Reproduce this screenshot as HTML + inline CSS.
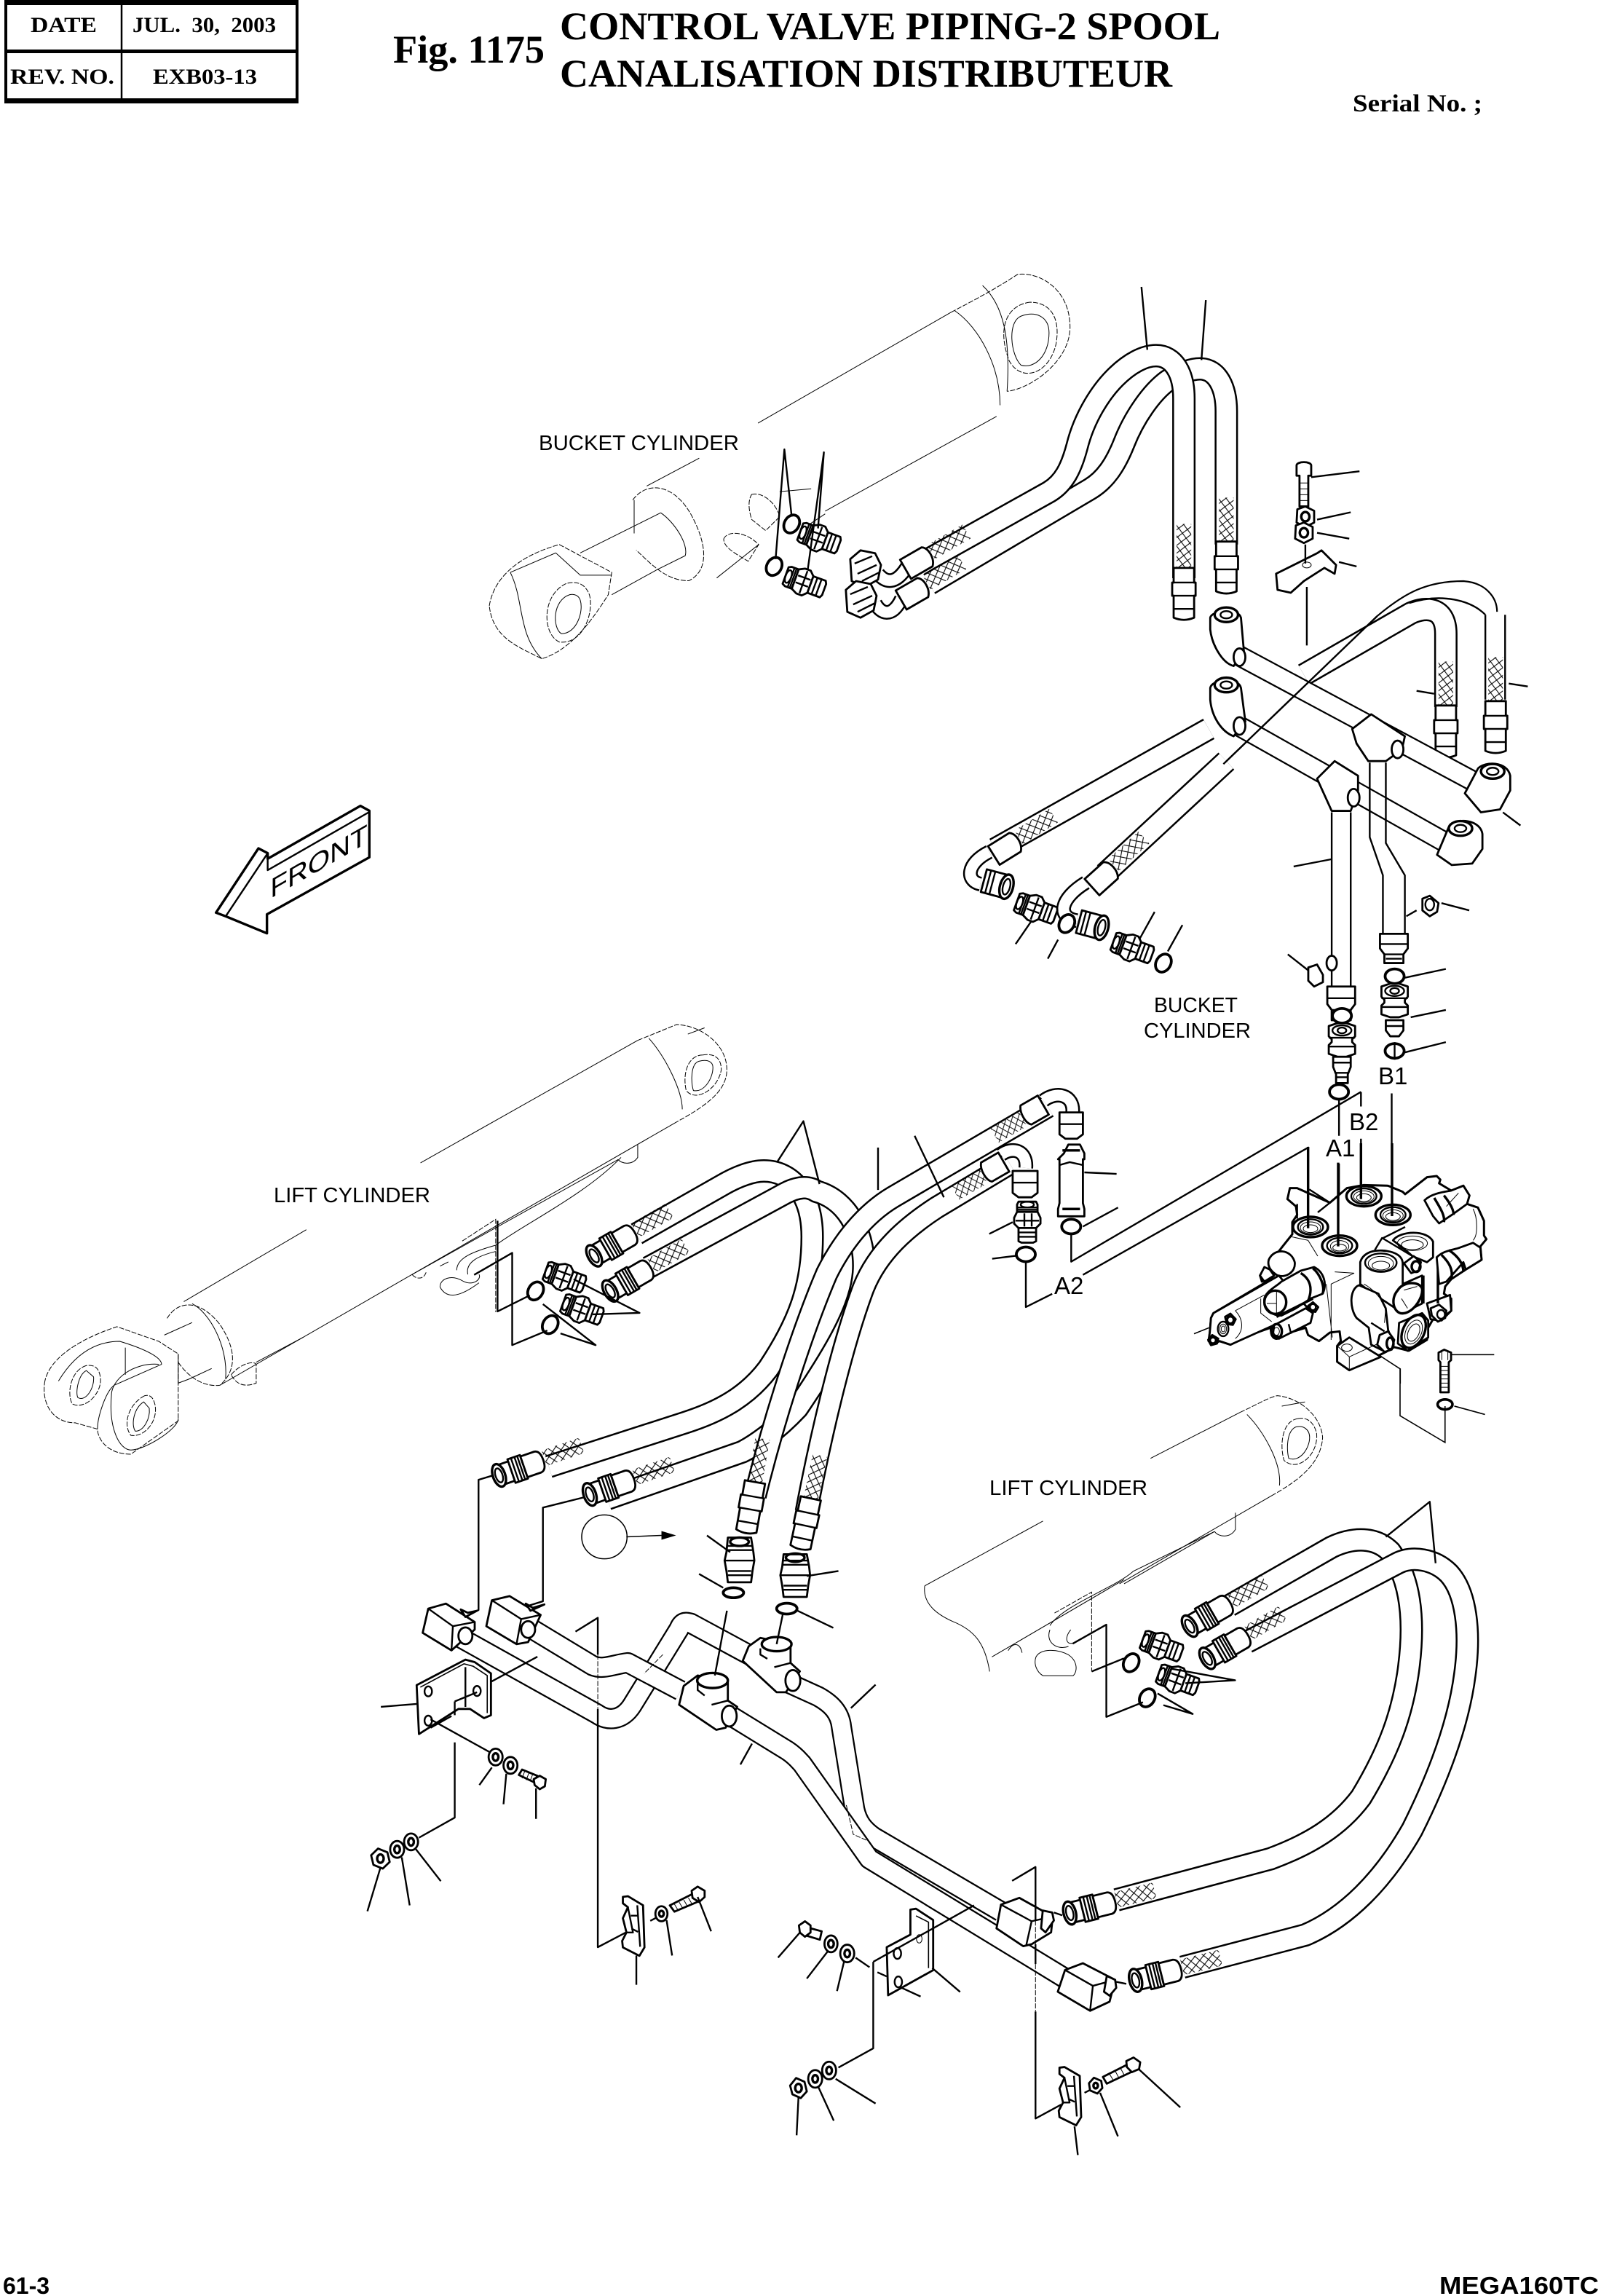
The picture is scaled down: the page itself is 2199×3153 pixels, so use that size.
<!DOCTYPE html>
<html><head><meta charset="utf-8"><style>
html,body{margin:0;padding:0;background:#fff}
svg{display:block}
svg *{vector-effect:non-scaling-stroke}
.l{fill:none;stroke:#000;stroke-width:2.4;stroke-linejoin:round}
.b{fill:none;stroke:#000;stroke-width:3.4;stroke-linejoin:round}
.t{fill:none;stroke:#000;stroke-width:1}
.d{fill:none;stroke:#000;stroke-width:1;stroke-dasharray:7 2}
.f{fill:#fff;stroke:#000;stroke-width:2.8;stroke-linejoin:round}
.ft{fill:#fff;stroke:#000;stroke-width:1}
.hb{fill:none;stroke:#000;stroke-width:32;stroke-linejoin:round}
.hw{fill:none;stroke:#fff;stroke-width:27;stroke-linejoin:round}
.tb{fill:none;stroke:#000;stroke-width:29;stroke-linejoin:round}
.tw{fill:none;stroke:#fff;stroke-width:24.5;stroke-linejoin:round}
.s{font-family:"Liberation Serif",serif;font-weight:bold}
.a{font-family:"Liberation Sans",sans-serif}
</style></head><body>
<svg xmlns="http://www.w3.org/2000/svg" width="2199" height="3153" viewBox="0 0 2199 3153">
<defs>
<pattern id="mesh" width="6" height="6" patternUnits="userSpaceOnUse" patternTransform="rotate(8)"><path d="M0 0L6 6M6 0L0 6" stroke="#000" stroke-width=".55" style="vector-effect:none"/></pattern>
<g id="cf">
<path class="f" d="M0 -7H10V7H0Z"/>
<ellipse class="b" style="fill:#fff" cx="0" cy="0" rx="4.2" ry="8"/>
<ellipse class="l" cx="0" cy="0" rx="2.4" ry="5"/>
<path class="f" d="M9 -8.5H18V8.5H9Z"/>
<path class="l" d="M11.5 -8.5V8.5M14 -8.5V8.5M16 -8.5V8.5"/>
<path class="f" d="M18 -7.5H28Q32 -7 32 0Q32 7 28 7.5H18Z"/>
<rect x="33" y="-6.5" width="27" height="11" fill="url(#mesh)"/>
</g>
<g id="col">
<path class="f" d="M-19 -7H-2Q1 -5 1 0Q1 5 -2 8H-19Z"/>
<rect x="2" y="-6.5" width="28" height="11" fill="url(#mesh)"/>
</g>
<g id="vf">
<path class="f" d="M-7 0V-15H-8V-24H-7V-34H7V-24H8V-15H7V0Q0 3 -7 0Z"/>
<path class="l" d="M-7 -6H7M-8 -15H8M-8 -24H8"/>
<rect x="-5" y="-64" width="10" height="30" fill="url(#mesh)"/>
</g>
<g id="nip">
<path class="f" d="M-6 -14H6L7 -12V-7H-7V-12Z"/>
<ellipse class="l" cx="0" cy="-12" rx="4.5" ry="2"/>
<path class="l" d="M-7 -10H7M-7 -8.5H7"/>
<path class="f" d="M-7 -7H7L9 -3V1L6 4H-6L-9 1V-3Z"/>
<path class="l" d="M-8 -1H8M-2 -6V3M3 -6V3"/>
<path class="f" d="M-6 4H6V13L4 14H-4L-6 13Z"/>
<path class="l" d="M-6 7H6M-6 10H6"/>
</g>
<g id="nu">
<path class="f" d="M-5.5 -5L0 -7L6 -4L6 4L0 7L-6 4Z"/>
<ellipse class="b" cx="0" cy="0" rx="2.8" ry="3.2"/>
</g>
<g id="hx">
<path class="f" d="M-10 -7L-3 -13L7 -11L11 -3L9 7L0 12L-9 8Z"/>
<path class="l" d="M-7 -4L5 -9M-5 3L8 -3M-2 8L10 2"/>
</g>
<g id="nt">
<path class="f" d="M-9 -8H7V8H-9Z"/>
<path class="l" d="M-6 -8V8M-3 -8V8"/>
<ellipse class="b" style="fill:#fff" cx="7" cy="0" rx="4.5" ry="8.5"/>
<ellipse class="l" cx="7" cy="0" rx="2.4" ry="5.5"/>
</g>
<g id="stk">
<path class="f" d="M-9 -10L-3 -12H3L9 -10V-3L7 -1V1L9 3V9L3 11H-3L-9 9V3L-7 1V-1L-9 -3Z"/>
<ellipse class="l" cx="0" cy="-7" rx="6.5" ry="3.5"/>
<ellipse class="l" cx="0" cy="-7" rx="3" ry="2"/>
<path class="l" d="M-9 -2H9M-9 4H9"/>
</g>
<g id="rg"><ellipse cx="0" cy="0" rx="6.5" ry="5" fill="#fff" stroke="#000" stroke-width="3.8"/></g>
<g id="clip">
<path class="f" d="M0 1L7 0L28 14L30 79L23 92L0 79L-1 69L5 56L0 34L7 17L0 11Z"/>
<path class="l" d="M7 17L14 56L5 56M20 14L24 78M11 30L20 30M12 50L21 55"/>
</g>
</defs>

<!-- HEADER -->
<path class="b" style="stroke-width:2.5" d="M167 0V142"/>
<path d="M6 0H410V7H6Z M6 135H410V142H6Z M6 68H410V73H6Z M6 0H10V142H6Z M406 0H410V142H406Z" fill="#000"/>
<text class="s" x="42" y="44" font-size="30" textLength="91" lengthAdjust="spacingAndGlyphs">DATE</text>
<text class="s" x="182" y="44" font-size="30" textLength="197" lengthAdjust="spacingAndGlyphs" xml:space="preserve">JUL.  30,  2003</text>
<text class="s" x="14" y="115" font-size="30" textLength="143" lengthAdjust="spacingAndGlyphs">REV. NO.</text>
<text class="s" x="210" y="115" font-size="30" textLength="143" lengthAdjust="spacingAndGlyphs">EXB03-13</text>
<text class="s" x="540" y="86" font-size="54" textLength="208" lengthAdjust="spacingAndGlyphs">Fig. 1175</text>
<text class="s" x="769" y="54" font-size="54" textLength="907" lengthAdjust="spacingAndGlyphs">CONTROL VALVE PIPING-2 SPOOL</text>
<text class="s" x="769" y="119" font-size="54" textLength="841" lengthAdjust="spacingAndGlyphs">CANALISATION DISTRIBUTEUR</text>
<text class="s" x="1858" y="153" font-size="34" textLength="178" lengthAdjust="spacingAndGlyphs">Serial No. ;</text>

<!-- FRONT arrow -->
<g transform="translate(270,1080) scale(.3333)">
<path class="b" d="M80 520L255 255L293 275V298L675 80L712 100V292L290 527V605L120 535Z"/>
<path class="l" d="M120 535L293 275M293 298V345L712 105"/>
<text class="a" transform="matrix(.87 -.5 0 1 304 462)" font-size="112" textLength="460" lengthAdjust="spacingAndGlyphs">FRONT</text>
</g>

<!-- BUCKET CYLINDER (thin) -->
<g transform="translate(600,350) scale(.961,.765)">
<path class="t" d="M459 302L735 103M555 460L800 290M300 415L375 365M205 535L320 463M250 610L315 565"/>
<path class="d" d="M735 103C770 80 800 60 830 35C860 30 905 60 905 130C905 190 850 240 815 245"/>
<path class="t" d="M740 100C775 130 805 200 805 270M780 55C810 90 820 150 815 245"/>
<path class="d" d="M848 85C815 90 800 130 818 190C835 230 875 215 885 160C892 110 875 85 848 85Z"/>
<path class="t" d="M835 110C815 120 820 180 835 198C855 205 875 180 875 140C875 110 855 100 835 110Z"/>
<path class="d" d="M280 440C300 405 340 410 365 470C390 530 385 570 360 585C330 585 310 560 285 530"/>
<path class="t" d="M282 440V500"/>
<path class="t" d="M320 463C340 480 360 520 355 540L315 565"/>
<path class="d" d="M75 630C80 590 105 545 175 520L250 570L245 610C220 660 190 710 150 725C120 705 80 690 75 630Z"/>
<path class="t" d="M105 570C125 620 115 680 150 725M105 570L170 535L205 575L250 575"/>
<path class="d" d="M185 590C150 610 150 680 175 695C210 700 225 640 218 610C212 590 200 585 185 590Z"/>
<path class="t" d="M190 610C165 620 165 670 178 680C200 680 210 640 205 620C203 612 197 608 190 610Z"/>
<path class="d" d="M450 430C465 425 485 445 490 470L470 495L450 475C445 455 445 440 450 430ZM410 510C415 495 440 495 460 520L445 550C425 535 410 525 410 510Z"/>
<path class="t" d="M490 425L535 420M460 520L400 580M555 465L525 490"/>
</g>

<!-- LIFT CYLINDER left (thin) -->
<g transform="translate(0,1400) scale(.765,.574)">
<path class="t" d="M755 343L1145 50M1215 245L395 875M550 503L330 675M295 755L345 725M340 860L380 835"/>
<path class="d" d="M1145 50L1215 12C1260 15 1305 60 1305 120C1305 170 1270 205 1215 245"/>
<path class="t" d="M1165 45C1195 90 1225 170 1225 215M1235 35L1265 20"/>
<path class="d" d="M1262 85C1235 85 1225 130 1232 170C1250 200 1290 165 1295 120C1295 95 1285 80 1262 85Z"/>
<path class="t" d="M1255 100C1240 105 1240 150 1245 170C1265 175 1280 140 1280 115C1280 100 1270 95 1255 100Z"/>
<path class="d" d="M300 715C320 670 360 670 395 730C425 790 425 840 395 875C370 880 340 860 320 820"/>
<path class="t" d="M345 680C375 700 410 780 405 860"/>
<path class="d" d="M80 870C85 820 130 770 210 735L285 770L320 800V960L235 1040C190 1040 175 1000 175 980L135 965C95 965 75 920 80 870Z"/>
<path class="t" d="M105 865C130 810 165 770 215 770C265 790 290 810 290 825L205 875C190 890 175 950 175 980M320 800V870L340 860M225 785V850"/>
<path class="t" d="M200 900C200 860 240 820 285 825M200 900C195 980 215 1030 235 1030C260 1030 320 980 320 955"/>
<path class="d" d="M155 828C125 840 120 900 130 920C155 935 185 890 180 855C178 835 170 825 155 828Z"/>
<path class="d" d="M260 900C230 920 220 970 235 995C260 1000 285 960 278 920C275 905 270 897 260 900Z"/>
<path class="t" d="M155 840C140 850 135 895 140 905C155 915 170 880 168 855Z"/>
<path class="t" d="M258 915C240 930 235 970 243 985C258 985 270 955 268 930Z"/>
<path class="d" d="M415 850C430 825 455 815 460 825V870C440 880 425 875 415 850Z"/>
<path class="t" d="M545 760L460 820M1145 300V330C1135 350 1115 345 1110 335M1110 335L740 610"/>
<path class="d" d="M830 530L890 478V700M740 610C745 620 760 625 765 605"/>
<path class="t" d="M820 600C820 570 850 555 890 540C940 490 1050 420 1115 330M840 610C835 580 860 565 890 555"/>
<path class="t" d="M790 640C790 620 810 610 830 625C850 640 865 620 860 610M790 640C800 665 820 670 860 630"/>
<path class="t" d="M805 580L790 590"/>
</g>

<!-- LIFT CYLINDER right (thin) -->
<g transform="translate(1200,1400) scale(.637,.574)">
<path class="t" d="M597 1050L790 940M865 1135L530 1350M365 1200L110 1355M255 1525L540 1340M880 925L930 915"/>
<path class="d" d="M790 940C820 925 850 905 870 900C920 905 965 950 968 1000C965 1060 920 1100 865 1135"/>
<path class="t" d="M805 945C840 985 880 1060 875 1115"/>
<path class="d" d="M915 955C880 960 875 1020 885 1055C915 1085 960 1040 955 990C950 965 935 950 915 955Z"/>
<path class="t" d="M910 975C890 985 890 1030 895 1050C920 1060 940 1025 940 1000C940 980 925 970 910 975Z"/>
<path class="t" d="M110 1355C105 1400 140 1425 170 1440C215 1460 240 1490 250 1560"/>
<path class="t" d="M780 1180V1220C770 1240 745 1240 735 1225M735 1225L540 1350"/>
<path class="d" d="M390 1420L470 1370V1560"/>
<path class="t" d="M290 1510C300 1490 315 1490 320 1515M380 1460C370 1490 395 1510 420 1500M425 1460C410 1480 415 1500 435 1490"/>
<path class="t" d="M350 1525C360 1505 395 1505 420 1520C440 1535 440 1560 430 1570H365C350 1560 345 1540 350 1525Z"/>
<path class="t" d="M380 1450C410 1400 520 1360 560 1320L735 1225"/>
</g>

<!-- HOSES -->
<g transform="scale(2.01)">
<path class="hb" d="M635 399L745 334C755 328 762 318 768 303C775 285 787 268 798 260C808 254 815 252 820 252C832 252 838 265 838 281V372"/>
<path class="hw" d="M635 399L745 334C755 328 762 318 768 303C775 285 787 268 798 260C808 254 815 252 820 252C832 252 838 265 838 281V372"/>
<path class="hb" d="M633 383L717 336C727 330 732 320 736 305C741 285 752 268 762 258C772 248 782 243 790 243C802 243 809 255 809 272V395"/>
<path class="hw" d="M633 383L717 336C727 330 732 320 736 305C741 285 752 268 762 258C772 248 782 243 790 243C802 243 809 255 809 272V395"/>
<!-- upper right hoses -->
<path class="t" style="stroke-width:2.2" d="M836 522L941 421C960 405 975 397 1000 397C1015 398 1023 408 1023 418"/>
<path class="l" d="M1015 420V478M1028.5 420V478"/>
<path class="hb" d="M891 461L964 419C975 414 988 415 988 433V483"/>
<path class="hw" d="M891 461L964 419C975 414 988 415 988 433V483"/>
<path class="l" d="M963 412C985 405 1005 410 1015 420"/>
<path class="hb" d="M680 580L826 498"/><path class="hw" d="M680 580L826 498"/>
<path class="hb" d="M755 597L838 520"/><path class="hw" d="M755 597L838 520"/>

<!-- lift hoses behind -->
<path class="hb" d="M435 843L493 810C505 803 515 800 522 800C540 800 555 815 555 845C555 880 545 905 525 935C510 955 490 965 468 972L375 1002"/>
<path class="hw" d="M435 843L493 810C505 803 515 800 522 800C540 800 555 815 555 845C555 880 545 905 525 935C510 955 490 965 468 972L375 1002"/>
<path class="hb" d="M443 866L537 815C545 811 552 810 558 814C580 820 592 845 590 870C588 895 570 925 545 962C530 978 515 988 507 992L415 1024"/>
<path class="hw" d="M443 866L537 815C545 811 552 810 558 814C580 820 592 845 590 870C588 895 570 925 545 962C530 978 515 988 507 992L415 1024"/>
<!-- long hoses -->
<path class="hb" d="M716 756L610 818C590 830 575 850 565 870C550 905 530 965 516 1022"/>
<path class="hw" d="M716 756L610 818C590 830 575 850 565 870C550 905 530 965 516 1022"/>
<path class="hb" d="M690 795L640 825C620 838 600 855 590 880C575 920 560 985 551 1033"/>
<path class="hw" d="M690 795L640 825C620 838 600 855 590 880C575 920 560 985 551 1033"/>
<!-- right lift hoses -->
<path class="hb" d="M840 1097L910 1057C925 1050 940 1050 950 1060C965 1080 967 1110 962 1144C958 1170 950 1195 930 1228C915 1248 895 1260 868 1270L763 1298"/>
<path class="hw" d="M840 1097L910 1057C925 1050 940 1050 950 1060C965 1080 967 1110 962 1144C958 1170 950 1195 930 1228C915 1248 895 1260 868 1270L763 1298"/>
<path class="hb" d="M852 1122L955 1068C965 1063 980 1065 990 1075C1002 1088 1005 1115 1001 1144C997 1175 985 1210 965 1250C945 1285 920 1310 892 1322L808 1344"/>
<path class="hw" d="M852 1122L955 1068C965 1063 980 1065 990 1075C1002 1088 1005 1115 1001 1144C997 1175 985 1210 965 1250C945 1285 920 1310 892 1322L808 1344"/>

<!-- hose ends -->
<use href="#vf" transform="translate(809,422)"/>
<use href="#vf" transform="translate(838,404)"/>
<use href="#vf" transform="translate(988,516)"/>
<use href="#vf" transform="translate(1022,513)"/>
<use href="#vf" transform="translate(510,1046) rotate(10)"/>
<use href="#vf" transform="translate(547,1057) rotate(12)"/>
<use href="#cf" transform="translate(341,1008) rotate(-19)"/>
<use href="#cf" transform="translate(403,1021) rotate(-19)"/>
<use href="#cf" transform="translate(406,858) rotate(-30)"/>
<use href="#cf" transform="translate(417,882) rotate(-30)"/>
<use href="#cf" transform="translate(813,1111) rotate(-30)"/>
<use href="#cf" transform="translate(825,1133) rotate(-30)"/>
<use href="#cf" transform="translate(731,1307) rotate(-14)"/>
<use href="#cf" transform="translate(776,1353) rotate(-14)"/>

<!-- bucket elbows -->
<path class="hb" style="stroke-width:20" d="M620 387C612 400 605 398 600 392"/><path class="hw" style="stroke-width:15" d="M620 387C612 400 605 398 600 392"/>
<path class="hb" style="stroke-width:20" d="M616 409C610 422 602 420 598 412"/><path class="hw" style="stroke-width:15" d="M616 409C610 422 602 420 598 412"/>
<use href="#col" transform="translate(635,379) rotate(-30)"/>
<use href="#col" transform="translate(632,400) rotate(-30)"/>
<use href="#hx" transform="translate(591,389)"/>
<use href="#hx" transform="translate(588,410)"/>
<!-- low elbow pieces -->
<path class="hb" style="stroke-width:20" d="M676 582C660 590 660 602 670 604"/><path class="hw" style="stroke-width:15" d="M676 582C660 590 660 602 670 604"/>
<path class="hb" style="stroke-width:20" d="M742 603C724 614 722 627 736 629"/><path class="hw" style="stroke-width:15" d="M742 603C724 614 722 627 736 629"/>
<use href="#col" transform="translate(695,574) rotate(-32)"/>
<use href="#col" transform="translate(760,593) rotate(-42)"/>
<use href="#nt" transform="translate(681,604) rotate(15)"/>
<use href="#nt" transform="translate(746,632) rotate(15)"/>
<!-- mid elbows -->
<path class="hb" style="stroke-width:20" d="M713 752C722 745 734 748 733 760"/><path class="hw" style="stroke-width:15" d="M713 752C722 745 734 748 733 760"/>
<path class="hb" style="stroke-width:20" d="M684 789C692 783 702 786 701 798"/><path class="hw" style="stroke-width:15" d="M684 789C692 783 702 786 701 798"/>
<use href="#col" transform="translate(700,763) rotate(150) scale(.8,1)"/>
<use href="#col" transform="translate(673,802) rotate(150) scale(.8,1)"/>
<path class="f" d="M724 760H740V775L736 778H728L724 775Z"/><path class="l" d="M724 768H740"/>
<path class="f" d="M692 800H709V815L705 818H696L692 815Z"/><path class="l" d="M692 808H709"/>

<!-- MANIFOLD upper right -->
<path class="tb" d="M843 446L1011 536"/><path class="tw" d="M843 446L1011 536"/>
<path class="tb" d="M843 494L992 578"/><path class="tw" d="M843 494L992 578"/>
<path class="l" d="M936 521V572L945 598V640M947 521V576L960 598V640M910 555V677M923 555V677"/>
<path class="f" d="M827 422C828 417 846 415 848 422L850 445L843 455C835 453 828 440 827 430Z"/>
<ellipse class="b" style="fill:#fff" cx="838" cy="420" rx="8" ry="5"/><ellipse class="l" cx="838" cy="420" rx="4" ry="2.5"/>
<ellipse class="f" cx="847" cy="449" rx="4" ry="6"/>
<path class="f" d="M827 470C828 464 846 462 848 470L851 493L843 503C835 500 828 490 827 478Z"/>
<ellipse class="b" style="fill:#fff" cx="838" cy="468" rx="8" ry="5"/><ellipse class="l" cx="838" cy="468" rx="4" ry="2.5"/>
<ellipse class="f" cx="847" cy="496" rx="4" ry="6"/>
<path class="f" d="M924 498L937 488L960 503L958 512L947 520H935L927 508Z"/>
<ellipse class="f" cx="955" cy="512" rx="4" ry="6"/>
<path class="f" d="M900 532L912 520L928 530L928 540L923 554H910L905 543Z"/>
<ellipse class="f" cx="925" cy="545" rx="4" ry="6"/>
<path class="f" d="M1001 542L1010 525C1015 520 1030 520 1032 530V540L1025 553L1012 555Z"/>
<ellipse class="b" style="fill:#fff" cx="1020" cy="527" rx="8" ry="5"/><ellipse class="l" cx="1020" cy="527" rx="4" ry="2.5"/>
<path class="f" d="M982 584L990 565C995 558 1012 560 1013 570V580L1006 590L992 591Z"/>
<ellipse class="b" style="fill:#fff" cx="998" cy="566" rx="8" ry="5"/><ellipse class="l" cx="998" cy="566" rx="4" ry="2.5"/>
<!-- stem ends -->
<path class="f" d="M943 638H962V648L959 652V658H946V652L943 648Z"/><path class="l" d="M943 645H962M946 652H959M947 655H958"/>
<path class="f" d="M907 674H926V686L923 690V697H910V690L907 686Z"/><path class="l" d="M907 682H926M910 690H923M911 693H922"/>
<path class="l" d="M961 626L968 622"/>
<path class="l" d="M836 522L941 421"/>

<!-- bolt stack top right -->
<path class="f" d="M886 318C886 315 896 315 896 318V325H894V346H888V325H886Z"/><path class="t" d="M888 330H894M888 334H894M888 338H894M888 342H894"/>
<use href="#nu" transform="translate(892,353)"/>
<use href="#nu" transform="translate(891,364)"/>
<path class="f" d="M872 392L900 378L903 376L913 386L912 392L905 388L891 397L882 405L873 403Z"/>
<path class="l" d="M892 372V385"/><ellipse class="t" cx="893" cy="386" rx="3" ry="2"/>
<path class="l" d="M893 401V441M896 326L929 322M900 355L923 350M900 364L922 368M915 384L927 387"/>

<!-- nipples & rings upper -->
<use href="#nip" transform="translate(560,368) rotate(-70)"/>
<use href="#nip" transform="translate(550,398) rotate(-70)"/>
<use href="#rg" transform="translate(541,358) rotate(-60)"/>
<use href="#rg" transform="translate(529,387) rotate(-60)"/>
<path class="l" d="M541 353L536 307L530 382M559 361L563 309L552 389"/>
<use href="#nip" transform="translate(708,621) rotate(-70)"/>
<use href="#nip" transform="translate(774,648) rotate(-70)"/>
<use href="#rg" transform="translate(729,631) rotate(-60)"/>
<use href="#rg" transform="translate(795,658) rotate(-60)"/>
<path class="l" d="M705 629L694 645M723 642L716 655M779 641L789 623M798 650L808 632"/>
<path class="l" d="M780 196L784 239M824 205L821 246M968 472L980 474M1031 467L1044 469M1027 555L1039 564M884 592L910 587M985 617L1004 622M880 652L894 663"/>
<path class="f" d="M972 614L977 612L983 617L982 623L977 626L972 622Z"/><ellipse class="l" cx="977" cy="618" rx="3" ry="4"/>
<path class="f" d="M894 661L900 659L904 666V671L898 674L894 670Z"/>
<ellipse class="f" cx="910" cy="658" rx="3.5" ry="5"/>

<!-- stacks -->
<use href="#rg" transform="translate(953,667)"/>
<use href="#stk" transform="translate(953,684)"/>
<path class="f" d="M947 697H959V704L956 708H950L947 704Z"/><path class="l" d="M947 701H959"/>
<use href="#rg" transform="translate(953,718)"/>
<path class="l" d="M960 668L988 662M964 695L988 690M960 719L988 712M953 712V724"/>
<use href="#rg" transform="translate(917,694)"/>
<use href="#stk" transform="translate(917,711)"/>
<path class="f" d="M911 722H923V729L921 734V740H913V734L911 729Z"/><path class="l" d="M911 726H923M913 733H921M913 736H921"/>
<use href="#rg" transform="translate(915,746)"/>
<path class="l" d="M915 751V776M915 795V845M930 746V756M930 778V809M951 747V831"/>
<path class="l" d="M930 746L732 862V842M740 871L894 784V831M719 884L701 893V861"/>

<!-- mid fittings -->
<path class="f" d="M727 788L730 782H738L741 788V792H740V822L741 826V831H723V826L724 822V792H723Z"/>
<path class="b" d="M726 786H738M726 826H738"/><path class="l" d="M724 796L731 794L740 796"/>
<use href="#nip" transform="translate(702,835)"/>
<use href="#rg" transform="translate(732,838)"/>
<use href="#rg" transform="translate(701,857)"/>
<path class="l" d="M741 801L763 802M740 838L764 825M676 843L692 835M678 860L694 858"/>
<path class="l" d="M600 784V813M625 776L645 818"/>

<!-- left V + zig leaders -->
<path class="l" d="M531 794L549 766L560 809"/>
<use href="#nip" transform="translate(386,873) rotate(-70)"/>
<use href="#nip" transform="translate(398,895) rotate(-70)"/>
<use href="#rg" transform="translate(366,882) rotate(-60)"/>
<use href="#rg" transform="translate(376,905) rotate(-60)"/>
<path class="l" d="M324 871L350 856V919L374 909M340 834V896L362 885M392 874L437 897L405 898M371 891L407 919L383 911"/>

<!-- right V + zig -->
<path class="l" d="M947 1050L977 1026L981 1068"/>
<use href="#nip" transform="translate(794,1125) rotate(-70)"/>
<use href="#nip" transform="translate(805,1148) rotate(-70)"/>
<use href="#rg" transform="translate(773,1136) rotate(-60)"/>
<use href="#rg" transform="translate(784,1160) rotate(-60)"/>
<path class="l" d="M733 1123L756 1110V1173L781 1163M746 1142L768 1133M791 1157L815 1171L795 1165M800 1140L844 1148L810 1150"/>

<!-- balloon -->
<ellipse class="t" style="stroke-width:1.5" cx="413" cy="1050" rx="15.5" ry="15"/>
<path class="t" style="stroke-width:1.5" d="M428 1050L452 1049"/>
<path d="M462 1049L452 1046V1052Z" fill="#000"/>

<path class="l" d="M337 1008L327 1011V1100L318 1104M399 1023L371 1030V1094L358 1098"/>
</g>

<!-- LOWER MANIFOLD -->
<g transform="scale(2.01)">
<path class="tb" d="M313 1118L408 1171C415 1176 425 1176 432 1165L464 1113C466 1108 468 1108 472 1109L522 1136"/>
<path class="tw" d="M313 1118L408 1171C415 1176 425 1176 432 1165L464 1113C466 1108 468 1108 472 1109L522 1136"/>
<path class="tb" d="M537 1149L559 1159C568 1164 574 1170 575 1180L584 1236C586 1245 590 1250 597 1255L684 1306"/>
<path class="tw" d="M537 1149L559 1159C568 1164 574 1170 575 1180L584 1236C586 1245 590 1250 597 1255L684 1306"/>
<path class="tb" d="M362 1112L405 1138C412 1141 420 1137 429 1136L465 1155"/>
<path class="tw" d="M362 1112L405 1138C412 1141 420 1137 429 1136L465 1155"/>
<path class="tb" d="M499 1172L538 1196C544 1200 546 1203 548 1205L594 1270L735 1356"/>
<path class="tw" d="M499 1172L538 1196C544 1200 546 1203 548 1205L594 1270L735 1356"/>
</g>
<g transform="translate(400,2100) scale(.638,.574)">
<path class="d" d="M660 300V430M800 300L760 345M1195 660L1210 730L1240 745"/>
<path class="f" d="M283 248L295 190L333 178L395 222L395 240L345 290Z"/><path class="l" d="M295 190L348 232L345 290M348 232L395 222"/>
<ellipse class="f" cx="375" cy="255" rx="15" ry="20"/>
<path class="f" d="M420 232L432 170L470 160L537 205L510 270L485 275Z"/><path class="l" d="M432 170L495 215L485 275M495 215L537 205"/>
<ellipse class="f" cx="510" cy="240" rx="15" ry="20"/>
<path class="f" d="M365 192L380 200L400 195L375 210Z"/><path class="f" d="M505 178L520 188L545 180L515 195Z"/>
<!-- tee A -->
<path class="f" d="M972 315L985 280L1010 260L1075 275L1075 320L1095 340L1065 390L1045 390Z"/>
<ellipse class="b" style="fill:#fff" cx="1045" cy="275" rx="32" ry="17"/>
<path class="l" d="M1010 285V300L1025 310M1075 320L1040 330"/>
<ellipse class="f" cx="1080" cy="362" rx="16" ry="25"/>
<!-- tee B -->
<path class="f" d="M835 420L845 375L875 350L940 365L940 410L960 425L935 475L915 480Z"/>
<ellipse class="b" style="fill:#fff" cx="907" cy="362" rx="33" ry="18"/>
<path class="l" d="M875 370V385L890 398M940 410L905 420"/>
<ellipse class="f" cx="943" cy="447" rx="16" ry="25"/>
<!-- nipples -->
<g transform="translate(965,75)"><path class="f" d="M-25 -55L25 -55L30 -20L32 0L28 25L25 52L-25 52L-28 25L-32 0L-28 -20Z"/><path class="l" d="M-27 -35H27M-27 -25H27M-32 0H32M-25 25H25M-25 35H25"/><ellipse class="b" cx="0" cy="-45" rx="20" ry="10"/></g>
<g transform="translate(1085,110)"><path class="f" d="M-25 -50L25 -50L30 -20L32 0L28 25L25 52L-25 52L-28 25L-32 0L-28 -20Z"/><path class="l" d="M-27 -35H27M-27 -25H27M-32 0H32M-25 25H25M-25 35H25"/><ellipse class="b" cx="0" cy="-42" rx="20" ry="10"/></g>
<ellipse class="l" style="stroke-width:3.8" cx="952" cy="152" rx="22" ry="12"/>
<ellipse class="l" style="stroke-width:3.8" cx="1067" cy="190" rx="22" ry="13"/>
<path class="l" d="M895 15L945 55M878 107L930 140M1110 112L1178 100M1090 195L1167 236M938 195L912 350M1058 205L1045 275"/>
<!-- left bracket -->
<path class="f" d="M270 373L375 312L395 318L430 345V445L415 452L385 430L360 430L275 490Z"/>
<path class="t" style="stroke-width:1.6" d="M278 378L372 322L392 328L422 350V440"/>
<ellipse class="l" cx="295" cy="388" rx="8" ry="12"/><ellipse class="l" cx="295" cy="458" rx="8" ry="12"/><ellipse class="l" cx="400" cy="387" rx="8" ry="12"/>
<path class="l" d="M193 425L270 418M375 330V425M430 365L530 305M352 412L400 390M352 412V445M352 510V690L275 738M345 447L300 475M300 455L430 535"/>
<g transform="translate(440,545)"><ellipse class="f" rx="15" ry="20"/><ellipse class="b" rx="6" ry="9"/></g>
<g transform="translate(472,565)"><ellipse class="f" rx="15" ry="20"/><ellipse class="b" rx="6" ry="9"/></g>
<path class="f" d="M490 588L497 575L530 590L522 605Z"/>
<path class="t" d="M503 578L497 596M512 582L506 600M520 586L514 603"/>
<path class="f" d="M522 598L535 590L548 598L546 615L535 622L524 612Z"/>
<path class="l" d="M432 570L405 612M463 585L457 658M527 620V693"/>
<g transform="translate(258,748)"><ellipse class="f" rx="15" ry="20"/><ellipse class="b" rx="6" ry="9"/></g>
<g transform="translate(228,766)"><ellipse class="f" rx="15" ry="20"/><ellipse class="b" rx="6" ry="9"/></g>
<g transform="translate(192,788)"><path class="f" d="M-20 -8L-5 -24L15 -15L20 8L5 24L-15 15Z"/><ellipse class="b" rx="7" ry="10"/></g>
<path class="l" d="M268 765L322 842M238 785L255 900M192 810L164 914"/>
<!-- long zig left -->
<path class="l" d="M612 245L660 212V300M660 430V1000L720 965"/>
<use href="#clip" transform="translate(714,878) scale(1.55,1.55)"/>
<path class="f" d="M815 900L865 872L878 890L825 915Z"/>
<path class="t" d="M825 897L832 910M835 892L842 905M845 887L852 900M855 882L862 895"/>
<path class="f" d="M862 865L875 855L890 865L890 880L878 892L864 882Z"/>
<g transform="translate(797,920)"><ellipse class="f" rx="13" ry="18"/><ellipse class="b" rx="5" ry="7"/></g>
<path class="l" d="M875 880L904 962M808 935L820 1020M743 1020V1090M773 937L785 930"/>
<!-- right bracket -->
<path class="f" d="M1282 1000L1333 970V910L1345 908L1382 935V1055L1285 1115Z"/>
<path class="t" style="stroke-width:1.6" d="M1345 925L1372 940V1050"/>
<ellipse class="l" cx="1305" cy="1015" rx="8" ry="13"/><ellipse class="l" cx="1307" cy="1083" rx="8" ry="13"/>
<ellipse class="t" cx="1352" cy="980" rx="6" ry="10"/>
<path class="f" d="M1112 953L1142 962L1138 982L1108 972Z"/>
<path class="f" d="M1093 948L1106 938L1118 948L1118 965L1106 975L1095 965Z"/>
<g transform="translate(1162,992)"><ellipse class="f" rx="14" ry="20"/><ellipse class="b" rx="6" ry="9"/></g>
<g transform="translate(1197,1015)"><ellipse class="f" rx="15" ry="21"/><ellipse class="b" rx="6" ry="9"/></g>
<path class="l" d="M1095 965L1048 1025M1155 1010L1110 1075M1190 1035L1175 1105M1215 1025L1245 1048M1253 1035V1242L1178 1288M1253 1035L1470 900M1262 1060L1282 1070M1310 1095L1355 1118M1380 1050L1440 1107"/>
<g transform="translate(1158,1295)"><ellipse class="f" rx="15" ry="21"/><ellipse class="b" rx="6" ry="9"/></g>
<g transform="translate(1128,1315)"><ellipse class="f" rx="15" ry="21"/><ellipse class="b" rx="6" ry="9"/></g>
<g transform="translate(1092,1337)"><path class="f" d="M-18 -6L-5 -24L13 -15L18 8L5 24L-13 15Z"/><ellipse class="b" rx="7" ry="10"/></g>
<path class="l" d="M1172 1315L1258 1374M1135 1335L1168 1415M1092 1360L1088 1450M1258 372L1205 428M992 513L967 563"/>
</g>
<g transform="translate(1000,2300) scale(.765,.544)">
<path class="f" d="M482 640L490 580L523 563L583 610L580 650L545 680L530 685Z"/><path class="l" d="M490 580L545 622L535 685M545 622L583 610"/>
<path class="f" d="M565 595L582 600L585 620L570 650L562 640Z"/>
<path class="f" d="M592 800L605 745L637 728L695 770L685 825L650 848Z"/><path class="l" d="M605 745L655 785L650 848M655 785L695 770"/>
<path class="f" d="M680 760L695 770L697 790L685 810L675 800Z"/>
<path class="l" d="M585 600L600 607M697 775L715 780"/>
<path class="l" d="M510 520L552 485V620M552 680V730M552 850V1120L598 1085"/>
<path class="d" d="M552 620V680M552 730V850"/>
<use href="#clip" transform="translate(595,990) scale(1.3,1.6)"/>
<path class="f" d="M673 1015L715 985L728 1000L680 1032Z"/>
<path class="t" d="M685 1008L692 1024M695 1000L702 1018M705 994L712 1012"/>
<path class="f" d="M715 975L728 966L740 978L738 995L725 1003L716 990Z"/>
<g transform="translate(660,1037)"><path class="f" d="M-12 -6L-3 -20L10 -12L12 6L3 20L-10 12Z"/><ellipse class="b" rx="4" ry="7"/></g>
<path class="l" d="M737 995L812 1092M668 1055L700 1165M622 1140L628 1212M640 1055L650 1048"/>
</g>

<!-- VALVE -->
<g transform="translate(1640,1570) scale(.3333)">
<path class="f" style="stroke-width:3" d="M70 720L80 700L300 570L330 545L280 570L272 545L290 515L312 520L330 470L365 425L405 375L405 325L425 295L420 260L385 230L395 185L425 185L560 245L630 185L700 172L800 175L860 200L870 210L960 140L1000 135L1015 150L1010 165L1060 195L1110 175L1135 215L1125 250L1170 265L1195 320L1195 380L1205 395L1180 425L1185 480L1120 520L1060 560L1035 590L1030 620L1060 640L1060 690L1020 730L985 725L965 760L960 810L885 855L825 840L790 860L640 935L590 900L590 835L605 815L600 775L560 780L515 815L470 790L460 760L395 780L350 805L320 790L315 760L230 790L150 830L105 815L85 825L60 815L65 780Z"/>
<g><ellipse class="b" cx="700" cy="218" rx="72" ry="42"/><ellipse class="l" cx="700" cy="218" rx="52" ry="32"/><ellipse class="t" cx="700" cy="220" rx="42" ry="24"/><ellipse class="t" cx="700" cy="224" rx="30" ry="16"/></g>
<g><ellipse class="b" cx="820" cy="295" rx="72" ry="42"/><ellipse class="l" cx="820" cy="295" rx="52" ry="32"/><ellipse class="t" cx="820" cy="298" rx="42" ry="24"/><ellipse class="t" cx="820" cy="302" rx="30" ry="16"/></g>
<g><ellipse class="b" cx="480" cy="345" rx="72" ry="42"/><ellipse class="l" cx="480" cy="345" rx="52" ry="32"/><ellipse class="t" cx="480" cy="348" rx="42" ry="24"/><ellipse class="t" cx="480" cy="352" rx="30" ry="16"/></g>
<g><ellipse class="b" cx="600" cy="422" rx="72" ry="42"/><ellipse class="l" cx="600" cy="422" rx="52" ry="32"/><ellipse class="t" cx="600" cy="425" rx="38" ry="24"/><ellipse class="t" cx="600" cy="430" rx="28" ry="14"/></g>
<path class="f" d="M820 400C850 360 960 355 985 405V470L960 490L900 465L860 430Z"/>
<ellipse class="t" cx="900" cy="412" rx="62" ry="30"/><ellipse class="t" cx="900" cy="418" rx="45" ry="20"/>
<path class="l" d="M745 440L775 390L925 480M780 390L870 345"/>
<path class="f" d="M685 490C695 455 730 440 775 442C830 445 862 465 860 500V580L940 545V660L860 700L800 660L730 615L685 580Z"/>
<ellipse class="l" cx="770" cy="492" rx="65" ry="38"/><ellipse class="t" cx="770" cy="496" rx="52" ry="30"/><ellipse class="t" cx="770" cy="504" rx="36" ry="18"/>
<path class="f" style="stroke-width:3.4" d="M840 605C860 570 930 565 940 600C945 640 895 710 850 700C820 690 810 640 840 605Z"/>
<path class="t" d="M865 605L920 590M855 640L880 680"/>
<path class="f" d="M865 495L905 465L935 490L925 525L895 535Z"/><ellipse class="b" cx="915" cy="508" rx="18" ry="22"/>
<path class="f" d="M680 585C640 600 640 680 670 720L720 760L730 830L790 860L820 820L800 770L790 680L760 620Z"/>
<path class="t" d="M700 580C740 600 780 650 790 680L785 740"/>
<path class="l" d="M730 740L785 775"/>
<path class="f" d="M590 835L640 800L770 880L640 935L590 900Z"/>
<path class="t" d="M590 835L640 880V935M640 880L770 820"/>
<ellipse class="t" cx="630" cy="842" rx="22" ry="15"/>
<path class="f" d="M765 790L800 775L825 810L815 850L785 860L755 830Z"/>
<ellipse class="b" cx="808" cy="825" rx="14" ry="24"/>
<path class="f" d="M845 740L940 700L965 730L965 800L880 855L840 825Z"/>
<ellipse class="b" cx="905" cy="775" rx="44" ry="72" transform="rotate(25 905 775)"/>
<ellipse class="t" cx="905" cy="778" rx="32" ry="52" transform="rotate(25 905 778)"/>
<ellipse class="t" cx="905" cy="780" rx="22" ry="38" transform="rotate(25 905 780)"/>
<path class="f" d="M960 660L1055 625L1060 690L1010 730L975 725Z"/>
<path class="f" d="M975 680L1010 665L1040 690L1035 720L1005 735L980 710Z"/><ellipse class="l" cx="1018" cy="705" rx="16" ry="18"/>
<path class="b" d="M945 545V660M1005 480V660"/>
<path class="f" d="M1000 470C1030 440 1070 440 1095 430L1150 410L1180 430L1185 480L1120 520L1110 490L1040 570L1010 580Z"/>
<path class="b" d="M1050 440C1080 460 1110 490 1110 530M1020 460C1050 490 1070 520 1060 560"/>
<path class="f" d="M950 235C980 205 1035 200 1060 195L1110 175L1135 215L1125 250L1070 290L1010 330L985 300Z"/>
<path class="b" d="M990 225C1010 260 1035 295 1030 325M1030 215C1050 240 1070 270 1070 295"/>
<path class="t" d="M1150 270C1170 310 1170 380 1150 400M1040 260L1090 205"/>
<path class="l" d="M425 250V310M475 190L560 245L510 285"/>
<path class="f" d="M308 480C330 430 400 435 415 490C420 530 380 555 345 545C320 530 300 510 308 480Z"/>
<path class="f" d="M272 545L290 510L312 520L330 545L290 570Z"/>
<path class="t" d="M400 385L470 400L510 465M580 530L660 535L565 580V810M545 580L570 800"/>
<path class="f" d="M70 720L80 700L350 545L370 570L470 680L350 740L150 830L105 815L85 825L60 815L65 780Z"/>
<path class="t" d="M170 690L290 625M170 690C200 720 210 770 170 805M275 640V700L320 735"/>
<path class="f" d="M360 570L440 525L495 510C535 530 550 580 530 620L480 640L420 680L360 710C310 710 285 670 290 640C295 610 340 590 360 570Z"/>
<path class="b" d="M440 535C480 560 490 600 470 650M490 515C520 540 540 590 530 620"/>
<ellipse class="b" cx="335" cy="655" rx="45" ry="48"/>
<path class="t" d="M300 660H340M340 610V700"/>
<path class="b" d="M340 715L490 640"/>
<path class="f" d="M330 750L460 680L490 700L480 740L360 800L325 790Z"/><ellipse class="b" cx="340" cy="775" rx="22" ry="30"/><ellipse class="t" cx="340" cy="775" rx="12" ry="16"/>
<path class="l" d="M390 745L400 785"/>
<g><path class="f" d="M128 715L150 702L172 725L160 748L135 745Z"/><ellipse class="b" cx="150" cy="728" rx="14" ry="15"/></g>
<g><path class="f" d="M58 810L75 790L100 805L95 825L70 832Z"/><ellipse class="b" cx="78" cy="812" rx="13" ry="13"/></g>
<g><path class="f" d="M470 670L490 655L512 675L500 695L478 690Z"/><ellipse class="l" cx="490" cy="675" rx="12" ry="13"/></g>
<ellipse class="l" cx="120" cy="765" rx="22" ry="30"/><ellipse class="t" cx="120" cy="765" rx="14" ry="20"/><ellipse class="t" cx="120" cy="765" rx="8" ry="12"/>
<path class="b" d="M470 305V350M594 80V425M688 0V230M816 0V300M470 15V300"/>
<path class="t" style="stroke-width:1.6" d="M0 785L62 760M758 870L850 930V990"/>
</g>

<!-- valve bolt -->
<g transform="translate(1200,1400) scale(.637,.574)">
<path class="f" d="M1218 797L1230 790L1245 797V815L1240 820V892H1222V820L1218 815Z"/>
<path class="t" d="M1222 830H1240M1222 840H1240M1222 850H1240M1222 860H1240M1222 870H1240M1222 880H1240M1225 795V815M1238 795V815"/>
<ellipse cx="1232" cy="921" rx="16" ry="12" fill="#fff" stroke="#000" stroke-width="3.6"/>
<path class="t" style="stroke-width:1.6" d="M1245 802H1338M1252 925L1318 945M1135 835V948L1232 1012V925"/>
</g>

<!-- LABELS -->
<g class="a" fill="#000">
<text x="740" y="618" font-size="29" textLength="275" lengthAdjust="spacingAndGlyphs">BUCKET CYLINDER</text>
<text x="1585" y="1390" font-size="29" textLength="115" lengthAdjust="spacingAndGlyphs">BUCKET</text>
<text x="1571" y="1425" font-size="29" textLength="147" lengthAdjust="spacingAndGlyphs">CYLINDER</text>
<text x="376" y="1651" font-size="29" textLength="215" lengthAdjust="spacingAndGlyphs">LIFT CYLINDER</text>
<text x="1359" y="2053" font-size="29" textLength="217" lengthAdjust="spacingAndGlyphs">LIFT CYLINDER</text>
<text x="1893" y="1489" font-size="33">B1</text>
<text x="1853" y="1552" font-size="33">B2</text>
<text x="1821" y="1588" font-size="33">A1</text>
<text x="1448" y="1777" font-size="33">A2</text>
<text x="4" y="3150" font-size="32" font-weight="bold">61-3</text>
<text x="1977" y="3150" font-size="33" font-weight="bold" textLength="219" lengthAdjust="spacingAndGlyphs">MEGA160TC</text>
</g>
</svg>
</body></html>
